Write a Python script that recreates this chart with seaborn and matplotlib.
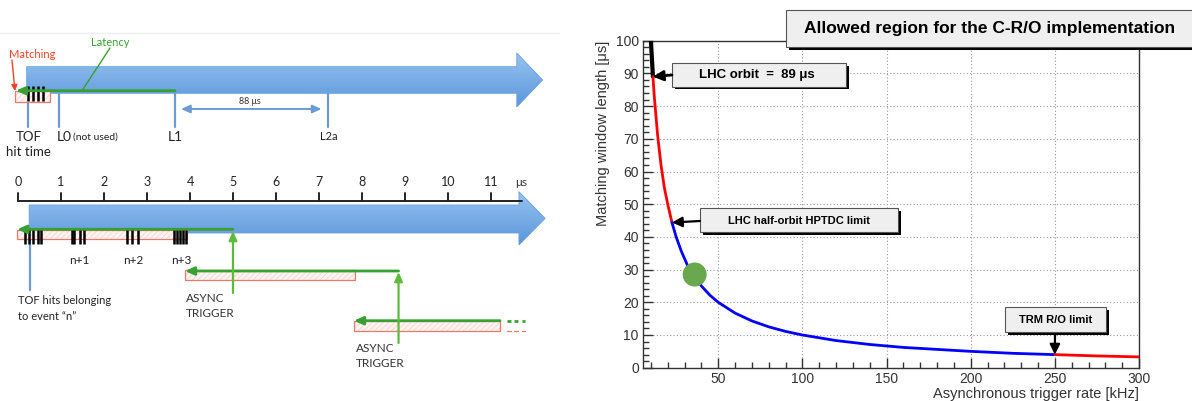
import numpy as np
import pandas as pd
import matplotlib
matplotlib.use("Agg")
import matplotlib.pyplot as plt
from matplotlib.patches import Polygon, Rectangle
from matplotlib.colors import LinearSegmentedColormap
from matplotlib.ticker import MultipleLocator
import seaborn as sns

# ==========================================
# DATA - right panel
# ==========================================
rate_khz = [10, 11.2, 12, 14, 16, 18, 20, 22.5, 25, 28, 32, 36, 40, 45, 50, 60, 70,
            80, 90, 100, 120, 140, 160, 180, 200, 225, 250, 275, 300]
window_us = [100, 89, 83, 71, 62, 55, 50, 44.4, 40, 35.7, 31, 27.8, 25, 22.2, 20, 16.7,
             14.3, 12.5, 11.1, 10, 8.3, 7.1, 6.2, 5.6, 5.0, 4.4, 4.0, 3.6, 3.3]
seg_edges = [10, 11.2, 22.5, 250, 300]
seg_names = ["LHC orbit", "above half-orbit", "allowed", "above TRM"]
seg_colors = ["black", "red", "blue", "red"]
chosen_rate = [36]
chosen_window = [28.5]
orbit_point = (11.2, 89)
half_orbit_point = (22.5, 44.4)
trm_point = (250, 4.0)

# ==========================================
# DATA - left panel (timing diagram, in us)
# ==========================================
us_ticks = list(range(12))
upper_events = ["TOF\nhit time", "L0", "L1", "L2a"]
upper_event_us = [0.23, 0.96, 3.65, 7.22]
upper_hits_us = [0.24, 0.36, 0.47, 0.59]
hit_group_names = ["n", "n+1", "n+2", "n+3"]
hit_groups_us = [[0.16, 0.26, 0.36, 0.46, 0.53],
                 [1.26, 1.30, 1.45, 1.53],
                 [2.53, 2.66, 2.78],
                 [3.63, 3.69, 3.77, 3.84, 3.91]]
trigger_us = [5.0, 8.85]
window_start_us = [-0.02, 3.88, 7.81]
window_end_us = [3.94, 7.84, 11.21]

sns.set_theme(style="ticks")
plt.rcParams["font.family"] = ["Liberation Sans", "DejaVu Sans"]
plt.rcParams["hatch.linewidth"] = 0.5

fig = plt.figure(figsize=(11.92, 4.01), dpi=100)

# ------------------------------------------
# RIGHT PANEL
# ------------------------------------------
ax = fig.add_axes([643 / 1192, 1 - 367.7 / 401, (1139 - 643) / 1192, (367.7 - 40.7) / 401])

rows = []
for name, lo, hi in zip(seg_names, seg_edges[:-1], seg_edges[1:]):
    for r, w in zip(rate_khz, window_us):
        if lo <= r <= hi:
            rows.append({"rate": r, "window": w, "segment": name})
df = pd.DataFrame(rows)

sns.lineplot(data=df, x="rate", y="window", hue="segment", units="segment", estimator=None,
             palette=dict(zip(seg_names, seg_colors)), legend=False, lw=2.0, ax=ax, zorder=3)
for line in ax.lines:
    if line.get_color() == "black":
        line.set_linewidth(3.0)

sns.scatterplot(x=chosen_rate, y=chosen_window, s=300, color="#6aa84f", edgecolor="none",
                ax=ax, zorder=4)

ax.set_xlim(5.3, 300)
ax.set_ylim(0, 100)
ax.xaxis.set_major_locator(MultipleLocator(50))
ax.xaxis.set_minor_locator(MultipleLocator(10))
ax.yaxis.set_major_locator(MultipleLocator(10))
ax.yaxis.set_minor_locator(MultipleLocator(2))
ax.tick_params(which="both", direction="in", colors="#333333", labelsize=10, pad=3)
ax.tick_params(which="major", length=7, width=1)
ax.tick_params(which="minor", length=4, width=1)
ax.grid(True, which="major", color="#999999", linestyle=(0, (1, 2)), lw=0.8)
for sp in ax.spines.values():
    sp.set_visible(True)
    sp.set_color("#333333")
    sp.set_linewidth(1)
ax.set_xlabel("Asynchronous trigger rate [kHz]", loc="right", fontsize=10.5, color="#333333", labelpad=1)
ax.set_ylabel("Matching window length [\u03bcs]", loc="top", fontsize=10.5, color="#333333", labelpad=4)

# ------------------------------------------
# OVERLAY (pixel coordinates) for boxes
# ------------------------------------------
ov = fig.add_axes([0, 0, 1, 1], zorder=5)
ov.set_xlim(0, 1192)
ov.set_ylim(401, 0)
ov.axis("off")


def shadow_box(x0, y0, x1, y1, text, fs, off=2.5, xc=None):
    ov.add_patch(Rectangle((x0 + off, y0 + off), x1 - x0, y1 - y0, fc="black", ec="none", zorder=6))
    ov.add_patch(Rectangle((x0, y0), x1 - x0, y1 - y0, fc="#efefef", ec="#555555", lw=0.8, zorder=7))
    xc = (x0 + x1) / 2 if xc is None else xc
    ov.text(xc, (y0 + y1) / 2 + 0.5, text, ha="center", va="center", fontsize=fs,
            fontweight="bold", color="black", zorder=8)


shadow_box(786, 10, 1210, 47, "Allowed region for the C-R/O implementation", 12.5, off=3, xc=990)
shadow_box(672, 63, 846, 86.5, "LHC orbit  =  89 \u03bcs", 9.5, xc=757)
shadow_box(700, 208, 898, 232, "LHC half-orbit HPTDC limit", 8)
shadow_box(1005, 307, 1106, 332, "TRM R/O limit", 8)

arrow_kw = dict(arrowstyle="-|>,head_length=0.5,head_width=0.25", color="black", lw=2,
                shrinkA=0, shrinkB=0)
ov.annotate("", xy=orbit_point, xycoords=ax.transData, xytext=(672, 75), textcoords="data",
            arrowprops=arrow_kw, zorder=9)
ov.annotate("", xy=half_orbit_point, xycoords=ax.transData, xytext=(700, 221), textcoords="data",
            arrowprops=dict(arrow_kw, lw=1.6), zorder=9)
ov.annotate("", xy=trm_point, xycoords=ax.transData, xytext=(1055, 334), textcoords="data",
            arrowprops=dict(arrow_kw, lw=1.6), zorder=9)

# ------------------------------------------
# LEFT PANEL - timing diagram (x in us, y in pixels)
# ------------------------------------------
axl = fig.add_axes([0, 0, 560 / 1192, 1])
axl.axis("off")
LFONT = ["Lato", "DejaVu Sans"]
GREEN = "#38a032"
GREEN_V = "#5cbc3a"
BLUE_L = "#6b9bd1"
blue_cmap = LinearSegmentedColormap.from_list("blu", ["#97c3f3", "#5a96d8"])

axl.plot([-0.42, 12.6], [33, 33], color="#eeeeee", lw=1)


def blue_arrow(x0, x1, tip, yb0, yb1, yh0, yh1):
    verts = [(x0, yb0), (x1, yb0), (x1, yh0), (tip, (yh0 + yh1) / 2), (x1, yh1), (x1, yb1), (x0, yb1)]
    poly = Polygon(verts, closed=True, fc="none", ec="#6c9fdc", lw=0.6, zorder=2)
    axl.add_patch(poly)
    grad = np.linspace(0, 1, 100).reshape(-1, 1)
    im = axl.imshow(grad, cmap=blue_cmap, extent=(x0, tip, yh1, yh0), aspect="auto",
                    origin="upper", zorder=1)
    im.set_clip_path(poly)


def match_box(x0, x1, y0, y1):
    axl.add_patch(Rectangle((x0, y0), x1 - x0, y1 - y0, fc="#fdf3f1", ec="#f7cfc8", lw=0,
                            hatch="//////", zorder=3))
    axl.add_patch(Rectangle((x0, y0), x1 - x0, y1 - y0, fc="none", ec="#e57a6d", lw=0.9, zorder=4))


def hits(xs, y0, y1):
    for x in xs:
        axl.plot([x, x], [y0, y1], color="black", lw=1.8, zorder=5, solid_capstyle="butt")


def harrow(x_from, x_to, y, color=GREEN, lw=2.0):
    axl.annotate("", xy=(x_to, y), xytext=(x_from, y),
                 arrowprops=dict(arrowstyle="-|>,head_length=0.45,head_width=0.2", color=color,
                                 lw=lw, shrinkA=0, shrinkB=0), zorder=6)


# upper timeline
blue_arrow(0.2, 11.6, 12.2, 66.7, 93.3, 53, 107)
match_box(-0.07, 0.74, 90.7, 101.7)
hits(upper_hits_us, 86, 101)
for lab, x in zip(upper_events, upper_event_us):
    top = 91 if lab == "L1" else 93.5
    axl.plot([x, x], [top, 127], color=BLUE_L, lw=1.6, zorder=2)
harrow(upper_event_us[2], -0.05, 90.7)
axl.text(upper_event_us[0] + 0.02, 137, "TOF", ha="center", va="center", fontsize=9.5, family=LFONT, color="#222222")
axl.text(upper_event_us[0] + 0.02, 152, "hit time", ha="center", va="center", fontsize=9.5, family=LFONT, color="#222222")
axl.text(upper_event_us[1] - 0.05, 137, "L0", ha="left", va="center", fontsize=10, family=LFONT, color="#222222")
axl.text(upper_event_us[1] + 0.33, 137, "(not used)", ha="left", va="center", fontsize=7.5, family=LFONT, color="#222222")
axl.text(upper_event_us[2], 137, "L1", ha="center", va="center", fontsize=10, family=LFONT, color="#222222")
axl.text(upper_event_us[3], 137, "L2a", ha="center", va="center", fontsize=8, family=LFONT, color="#222222")
axl.annotate("", xy=(3.79, 109), xytext=(7.06, 109),
             arrowprops=dict(arrowstyle="<|-|>,head_length=0.45,head_width=0.2", color=BLUE_L,
                             lw=1.4, shrinkA=0, shrinkB=0))
axl.text(5.4, 101, "88 \u03bcs", ha="center", va="center", fontsize=6.5, family=LFONT, color="#333333")

axl.text(0.34, 54, "Matching", ha="center", va="center", fontsize=8, family=LFONT, color="#f0402a")
axl.annotate("", xy=(-0.07, 91), xytext=(-0.14, 60),
             arrowprops=dict(arrowstyle="-|>,head_length=0.3,head_width=0.15", color="#f0402a",
                             lw=1, shrinkA=0, shrinkB=0))
axl.text(2.15, 43, "Latency", ha="center", va="center", fontsize=8, family=LFONT, color=GREEN)
axl.plot([2.14, 1.5], [48, 90], color=GREEN, lw=1)

# lower timeline ruler
axl.plot([0, 11.72], [201, 201], color="#222222", lw=1.4, zorder=3)
for t in us_ticks:
    axl.plot([t, t], [193, 201], color="#222222", lw=1.4, zorder=3)
    axl.text(t, 182, str(t), ha="center", va="center", fontsize=9, family=LFONT, color="#222222")
axl.text(11.55, 182, "\u03bcs", ha="left", va="center", fontsize=8.5, family=LFONT, color="#333333")

blue_arrow(0.26, 11.65, 12.26, 205, 233, 191.7, 245)

# matching windows
match_box(window_start_us[0], window_end_us[0], 230, 238.5)
match_box(window_start_us[1], window_end_us[1], 270, 280)
match_box(window_start_us[2], window_end_us[2], 320.7, 330.7)
for k in range(3):
    xd = window_end_us[2] + 0.16 + k * 0.17
    axl.plot([xd, xd + 0.09], [321, 321], color=GREEN, lw=2.0, zorder=6, solid_capstyle="butt")
    axl.plot([xd, xd + 0.09], [330.5, 330.5], color="#e57a6d", lw=0.9, zorder=6)

for xs in hit_groups_us:
    hits(xs, 229, 244)
for name, xs in zip(hit_group_names[1:], hit_groups_us[1:]):
    axl.text(np.mean(xs) + 0.03, 261, name, ha="center", va="center", fontsize=8.5,
             family=LFONT, color="#222222")

axl.plot([0.28, 0.28], [238, 290], color=BLUE_L, lw=1.6, zorder=2)
axl.text(0.0, 301, "TOF hits belonging", ha="left", va="center", fontsize=8, family=LFONT, color="#222222")
axl.text(0.0, 316, "to event \u201cn\u201d", ha="left", va="center", fontsize=8, family=LFONT, color="#222222")

# latency arrows and triggers
harrow(trigger_us[0], window_start_us[0], 229.3)
harrow(trigger_us[1], window_start_us[1], 271)
harrow(window_end_us[2], window_start_us[2], 320.7)
for t, yb, yt in zip(trigger_us, [293, 343], [231, 272]):
    axl.annotate("", xy=(t, yt), xytext=(t, yb),
                 arrowprops=dict(arrowstyle="-|>,head_length=0.45,head_width=0.2", color=GREEN_V,
                                 lw=1.6, shrinkA=0, shrinkB=0), zorder=6)
for xl, yl in zip([3.9, 7.86], [298, 348]):
    axl.text(xl, yl, "ASYNC", ha="left", va="center", fontsize=8.5, family=LFONT, color="#333333")
    axl.text(xl, yl + 15.5, "TRIGGER", ha="left", va="center", fontsize=8.5, family=LFONT, color="#333333")

axl.set_xlim(-18 / 43, (560 - 18) / 43)
axl.set_ylim(401, 0)

plt.savefig("out.png", dpi=100)
